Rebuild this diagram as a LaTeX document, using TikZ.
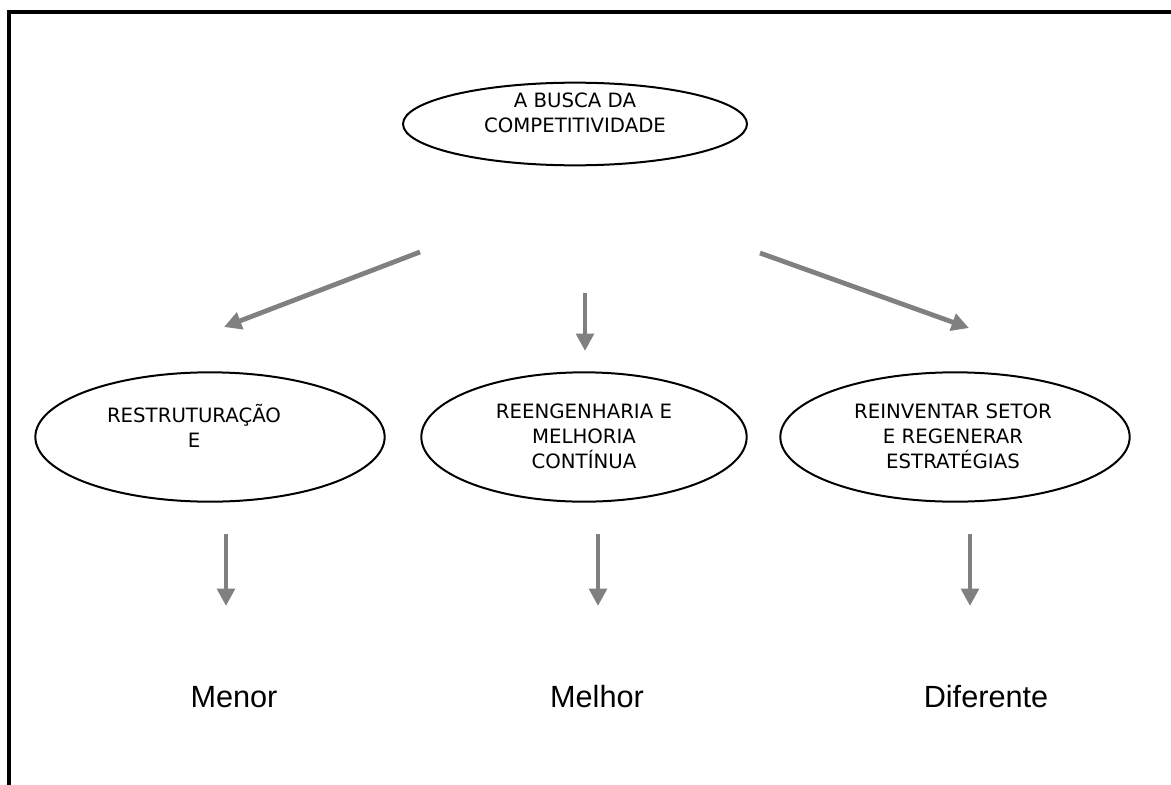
\documentclass[tikz,border=0pt]{standalone}
\usepackage{fontspec}
\setmainfont{Liberation Sans}
\newfontfamily\boxfont{DejaVu Sans}
\usetikzlibrary{arrows.meta,shapes.geometric}

\tikzset{
  oval/.style={draw=black, line width=1.5pt, ellipse, inner sep=0pt},
  ovaltext/.style={font=\boxfont\fontsize{14.8}{18.6}\selectfont, align=center, anchor=north, inner sep=0pt},
  flow/.style={color={rgb,255:red,128;green,128;blue,128}, line width=3.6pt,
    -{Triangle[length=13pt,width=13pt]}},
  result/.style={font=\fontsize{23}{27}\selectfont, inner sep=0pt},
  frame/.style={draw=black, line width=2.4pt}
}

\begin{document}
\begin{tikzpicture}[x=0.75pt, y=-0.75pt]
  \useasboundingbox (0,0) rectangle (1171,785);

  % page frame
  \coordinate (fbl) at (9,786);
  \coordinate (ftl) at (9,12);
  \coordinate (ftr) at (1172,12);
  \draw[frame] (fbl) -- (ftl) -- (ftr);

  % top goal
  \node[oval, minimum width=258pt, minimum height=62pt] (goal) at (575,124) {};
  \node[ovaltext] (goaltxt) at (575,93) {A BUSCA DA\\COMPETITIVIDADE};

  % three approaches
  \node[oval, minimum width=262pt, minimum height=97pt] (restr) at (210,437) {};
  \node[ovaltext] (restrtxt) at (194,404) {RESTRUTURAÇÃO\\E};

  \node[oval, minimum width=244pt, minimum height=97pt] (reeng) at (584,437) {};
  \node[ovaltext] (reengtxt) at (584,404) {REENGENHARIA E\\MELHORIA\\CONTÍNUA};

  \node[oval, minimum width=262pt, minimum height=97pt] (reinv) at (955,437) {};
  \node[ovaltext] (reinvtxt) at (953,404) {REINVENTAR SETOR\\E REGENERAR\\ESTRATÉGIAS};

  % arrows from the goal
  \coordinate (g1) at (420,252);
  \coordinate (g1e) at (224,327);
  \coordinate (g2) at (585,293);
  \coordinate (g2e) at (585,351);
  \coordinate (g3) at (760,253);
  \coordinate (g3e) at (969,328);
  \draw[flow] (g1) -- (g1e);
  \draw[flow] (g2) -- (g2e);
  \draw[flow] (g3) -- (g3e);

  % arrows to the outcomes
  \coordinate (r1) at (226,534);
  \coordinate (r1e) at (226,606);
  \coordinate (r2) at (598,534);
  \coordinate (r2e) at (598,606);
  \coordinate (r3) at (970,534);
  \coordinate (r3e) at (970,606);
  \draw[flow] (r1) -- (r1e);
  \draw[flow] (r2) -- (r2e);
  \draw[flow] (r3) -- (r3e);

  % outcomes
  \node[result] (menor) at (234,697) {Menor};
  \node[result] (melhor) at (597,697) {Melhor};
  \node[result] (difer) at (986,697) {Diferente};
\end{tikzpicture}
\end{document}
